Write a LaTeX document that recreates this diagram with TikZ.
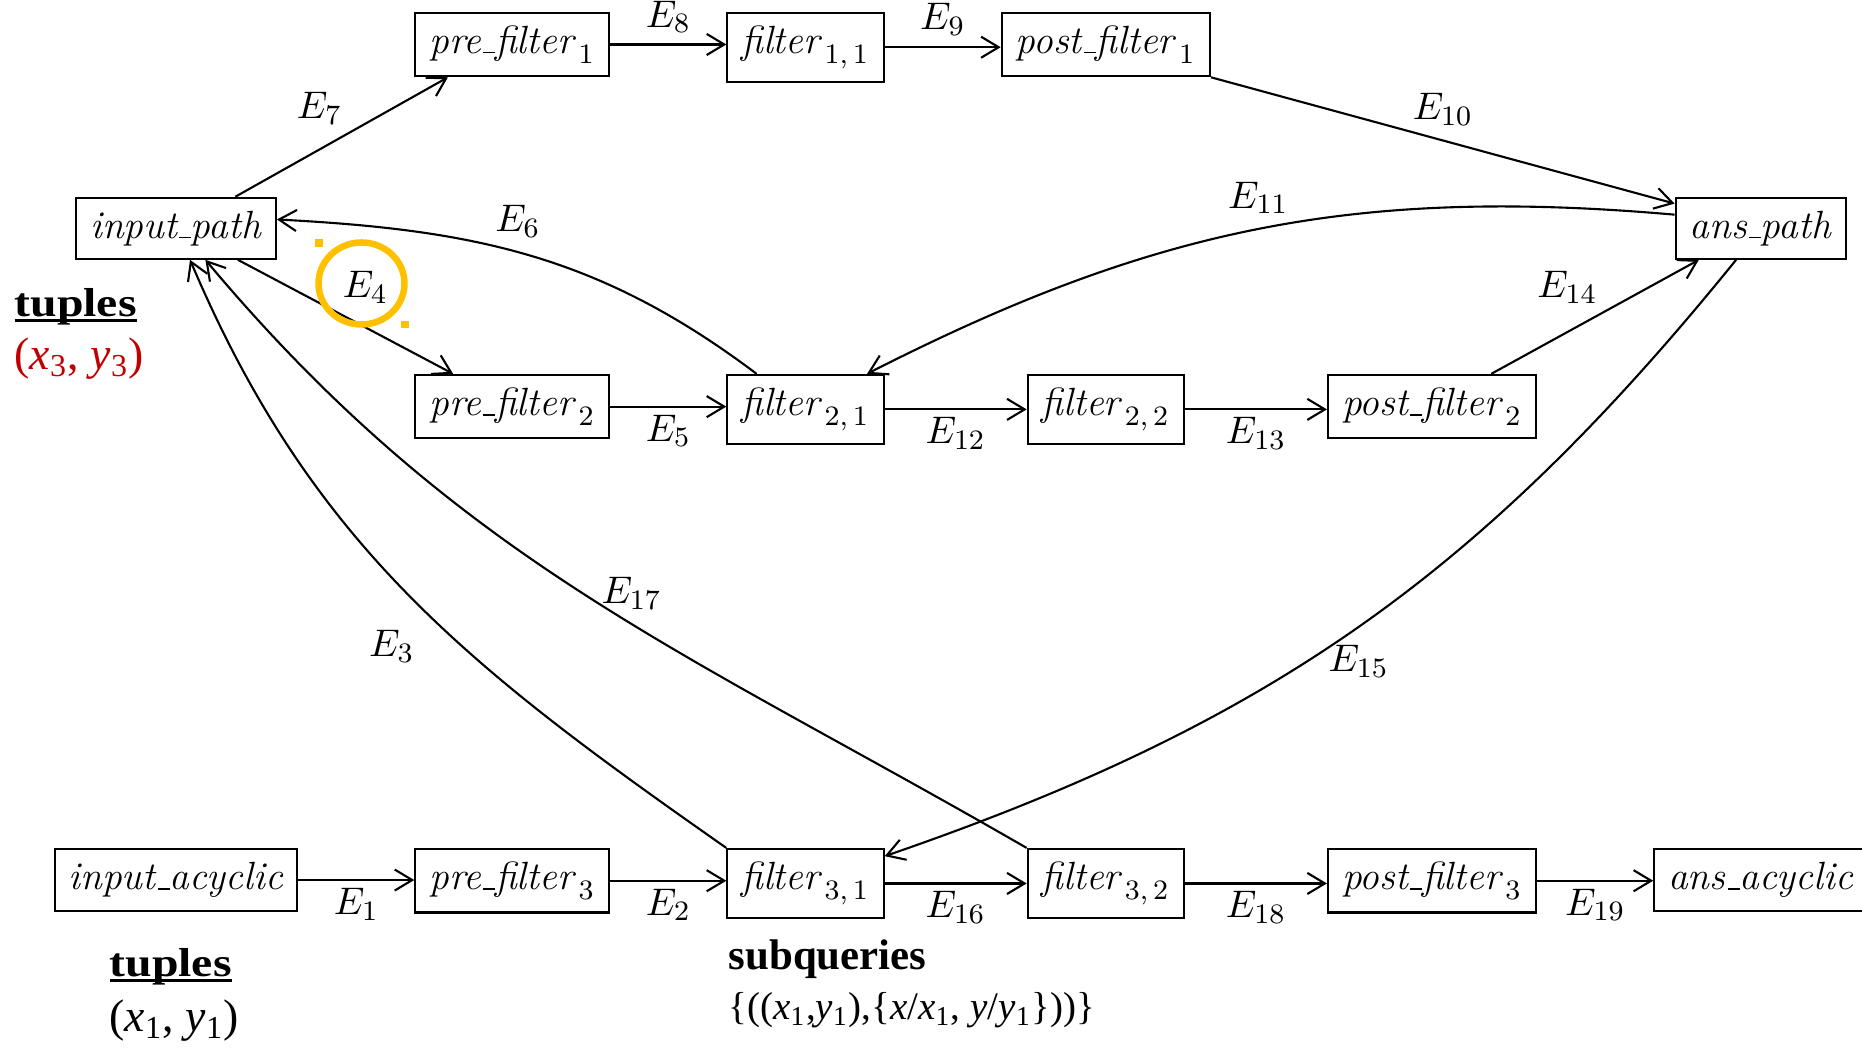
\documentclass[tikz,border=0pt]{standalone}
\usepackage{fontspec}
\usepackage{tikz}
\usetikzlibrary{matrix}
\usetikzlibrary{arrows.meta}
\newfontfamily\slidefont{Liberation Serif}
\newfontfamily\tuplefont[FakeStretch=1.18]{Liberation Serif}
\definecolor{slidered}{RGB}{192,0,0}
\definecolor{markorange}{RGB}{255,192,0}
\newcommand\slideul[1]{\setbox0=\hbox{#1}\rlap{\vrule height -0.6pt depth 1.4pt width \wd0}\box0}
\newcommand\stagebar{\leavevmode\kern.06em\vbox{\hrule width.3em}}
\tikzset{
  stage/.style={draw, semithick, inner xsep=4pt, inner ysep=3.7pt},
  flow/.style={semithick, -{Straight Barb[length=5pt,width=6pt]}},
  elbl/.style={inner sep=2pt},
  note/.style={anchor=base west, inner sep=0pt}
}
\begin{document}
\begin{tikzpicture}[font=\fontsize{11.2}{13.4}\selectfont]
\useasboundingbox (0,0) rectangle (18.62,10.49);
\matrix [matrix of nodes, nodes={stage}, column sep=1.16cm, row sep=1.14cm,
matrix anchor=north west, inner sep=0pt] at (0.53,10.38)
{
 & |(pf1)|{$\textit{pre\stagebar filter}_{\,1}$} & |(f11)|{$\textit{filter}_{\,1,\,1}$} & |(pof1)|{$\textit{post\stagebar filter}_{\,1}$} & & \\
|(ip)|{\textit{input\stagebar path}} & & & & & |(ap)|{\textit{ans\stagebar path}} \\
 & |(pf2)|{$\textit{pre\stagebar filter}_{\,2}$} & |(f21)|{$\textit{filter}_{\,2,\,1}$} & |(f22)|{$\textit{filter}_{\,2,\,2}$} & |(pof2)|{$\textit{post\stagebar filter}_{\,2}$} & \\[2.89cm]
|(ia)|{\textit{input\stagebar acyclic}} & |(pf3)|{$\textit{pre\stagebar filter}_{\,3}$} & |(f31)|{$\textit{filter}_{\,3,\,1}$} & |(f32)|{$\textit{filter}_{\,3,\,2}$} & |(pof3)|{$\textit{post\stagebar filter}_{\,3}$} & |(aa)|{\textit{ans\stagebar acyclic}} \\
};
\draw[flow] (pf1.east) -- node[elbl,above=1pt]{$E_8$} (pf1.east -| f11.west);
\draw[flow] (f11.east) -- node[elbl,above=1pt]{$E_9$} (f11.east -| pof1.west);
\draw[flow] (pf2.east) -- node[elbl,below]{$E_5$} (pf2.east -| f21.west);
\draw[flow] (f21.east) -- node[elbl,below]{$E_{12}$} (f21.east -| f22.west);
\draw[flow] (f22.east) -- node[elbl,below]{$E_{13}$} (f22.east -| pof2.west);
\draw[flow] (ia.east) -- node[elbl,below]{$E_1$} (ia.east -| pf3.west);
\draw[flow] (pf3.east) -- node[elbl,below]{$E_2$} (pf3.east -| f31.west);
\draw[flow] (f31.east) -- node[elbl,below]{$E_{16}$} (f31.east -| f32.west);
\draw[flow] (f32.east) -- node[elbl,below]{$E_{18}$} (f32.east -| pof3.west);
\draw[flow] (pof3.east) -- node[elbl,below]{$E_{19}$} (pof3.east -| aa.west);
\draw[flow] (ip.28) -- node[elbl,pos=.54,above left]{$E_7$} (pf1.207);
\draw[flow] (pof1.south east) -- node[elbl,above=2pt]{$E_{10}$} (ap.164);
\draw[flow] (ap.171) to[out=175,in=27] node[elbl,above=2pt]{$E_{11}$} (f21.30);
\draw[flow] (f21.144) to[out=143,in=-3] node[elbl,pos=.53,above=2pt]{$E_6$} (ip.5);
\draw[flow] (ip.-27) -- node[elbl,pos=.45,above right]{$E_4$} (pf2.151);
\draw[flow] (pof2.29) -- node[elbl,pos=.55,above left]{$E_{14}$} (ap.-153);
\draw[flow] (ap.-128) to[out=231,in=19] node[elbl,below=3pt]{$E_{15}$} (f31.19);
\draw[flow] (f31.north west) to[out=145,in=-67] node[elbl,pos=.4,left=0.4cm]{$E_3$} (ip.-66);
\draw[flow] (f32.north west) to[out=150,in=-50] node[elbl,right=3pt]{$E_{17}$} (ip.-47);
\node[note] (tup3) at (0.14,7.32) {\tuplefont\bfseries\fontsize{11.5}{13}\selectfont\slideul{tuples}};
\node[note,text=slidered] (xy3) at (0.14,6.79) {\slidefont\fontsize{13}{15}\selectfont(\textit{x}\textsubscript{3}, \textit{y}\textsubscript{3})};
\node[note] (tup1) at (1.09,0.72) {\tuplefont\bfseries\fontsize{11.5}{13}\selectfont\slideul{tuples}};
\node[note] (xy1) at (1.09,0.17) {\slidefont\fontsize{13}{15}\selectfont(\textit{x}\textsubscript{1}, \textit{y}\textsubscript{1})};
\node[note] (subq) at (7.28,0.79) {\slidefont\bfseries\fontsize{12.2}{14}\selectfont subqueries};
\node[note] (subqset) at (7.28,0.29) {\slidefont\fontsize{11.1}{13}\selectfont\{((\textit{x}\textsubscript{1},\textit{y}\textsubscript{1}),\{\textit{x}/\textit{x}\textsubscript{1}, \textit{y}/\textit{y}\textsubscript{1}\}))\}};
\draw[markorange, line width=1.85pt] (3.615,7.655) ellipse [x radius=0.43, y radius=0.41];
\fill[markorange] (3.15,8.02) rectangle (3.23,8.10);
\fill[markorange] (4.01,7.21) rectangle (4.09,7.28);
\end{tikzpicture}
\end{document}
